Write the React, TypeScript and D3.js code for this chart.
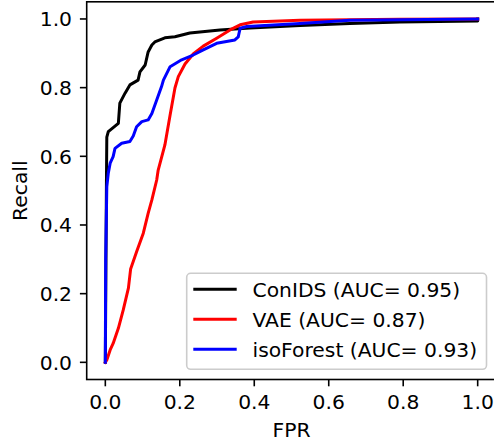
import React from "react";
import * as d3 from "d3";

const W = 494;
const H = 443;

const xTicks = [0, 0.2, 0.4, 0.6, 0.8, 1.0];
const yTicks = [0, 0.2, 0.4, 0.6, 0.8, 1.0];

const conidsFpr = [0, 0.003, 0.004, 0.008, 0.035, 0.039, 0.053, 0.066, 0.088, 0.093, 0.107, 0.115, 0.125, 0.133, 0.16, 0.187, 0.227, 0.308, 0.389, 0.523, 0.657, 0.791, 1.0, 1.0];
const conidsTpr = [0, 0.522, 0.656, 0.672, 0.696, 0.755, 0.784, 0.808, 0.822, 0.846, 0.866, 0.904, 0.924, 0.933, 0.945, 0.948, 0.959, 0.968, 0.974, 0.981, 0.987, 0.991, 0.994, 1.0];

const vaeFpr = [0, 0.004, 0.013, 0.021, 0.035, 0.048, 0.062, 0.068, 0.084, 0.102, 0.115, 0.125, 0.138, 0.142, 0.16, 0.174, 0.187, 0.196, 0.214, 0.236, 0.263, 0.299, 0.335, 0.362, 0.397, 0.523, 0.791, 1.0];
const vaeTpr = [0, 0.007, 0.036, 0.055, 0.099, 0.152, 0.216, 0.272, 0.322, 0.376, 0.434, 0.473, 0.531, 0.56, 0.633, 0.72, 0.799, 0.832, 0.869, 0.898, 0.921, 0.944, 0.968, 0.983, 0.991, 0.996, 0.999, 1.0];

const isoFpr = [0, 0.001, 0.004, 0.008, 0.013, 0.021, 0.026, 0.044, 0.066, 0.075, 0.084, 0.098, 0.115, 0.125, 0.138, 0.151, 0.156, 0.174, 0.205, 0.236, 0.263, 0.299, 0.348, 0.357, 0.362, 0.38, 0.416, 0.523, 0.657, 0.791, 1.0];
const isoTpr = [0, 0.3, 0.511, 0.551, 0.58, 0.599, 0.623, 0.638, 0.643, 0.659, 0.686, 0.701, 0.706, 0.725, 0.764, 0.803, 0.822, 0.861, 0.881, 0.895, 0.91, 0.929, 0.939, 0.948, 0.973, 0.978, 0.98, 0.987, 0.996, 0.998, 1.0];

const seriesNames = ["ConIDS (AUC= 0.95)", "VAE (AUC= 0.87)", "isoForest (AUC= 0.93)"];
const seriesColors = ["#000000", "#ff0000", "#0000ff"];

const FONT = "DejaVu Sans, sans-serif";
const FS = 20.3;

export default function App() {
  const left = 86.7, right = 496.3, top = 1.8, bottom = 379.5;
  const x = d3.scaleLinear().domain([-0.05, 1.05]).range([left, right]);
  const y = d3.scaleLinear().domain([-0.05, 1.05]).range([bottom, top]);
  const line = d3.line<[number, number]>().x((d) => x(d[0])).y((d) => y(d[1]));

  const series = [
    conidsFpr.map((f, i) => [f, conidsTpr[i]] as [number, number]),
    vaeFpr.map((f, i) => [f, vaeTpr[i]] as [number, number]),
    isoFpr.map((f, i) => [f, isoTpr[i]] as [number, number]),
  ];

  const lgX = 186.7, lgY = 273.3, lgW = 486.5 - 186.7, lgH = 369.3 - 273.3;

  return (
    <svg width={W} height={H} style={{ position: "absolute", left: 0, top: 0, background: "#fff" }} fontFamily={FONT}>
      <rect x={0} y={0} width={W} height={H} fill="#fff" />
      <defs>
        <clipPath id="plotclip">
          <rect x={left} y={top} width={right - left} height={bottom - top} />
        </clipPath>
      </defs>
      <g clipPath="url(#plotclip)">
        {series.map((s, i) => (
          <path key={i} d={line(s) || ""} fill="none" stroke={seriesColors[i]} strokeWidth={3} strokeLinejoin="round" strokeLinecap="square" />
        ))}
      </g>
      <rect x={left} y={top} width={right - left} height={bottom - top} fill="none" stroke="#000" strokeWidth={1.6} />
      {xTicks.map((t) => (
        <g key={"x" + t}>
          <line x1={x(t)} x2={x(t)} y1={bottom} y2={bottom + 6.8} stroke="#000" strokeWidth={1.6} />
          <text x={x(t)} y={408.5} textAnchor="middle" fontSize={FS} fill="#000">{t.toFixed(1)}</text>
        </g>
      ))}
      {yTicks.map((t) => (
        <g key={"y" + t}>
          <line x1={left - 6.8} x2={left} y1={y(t)} y2={y(t)} stroke="#000" strokeWidth={1.6} />
          <text x={72} y={y(t) + 7.5} textAnchor="end" fontSize={FS} fill="#000">{t.toFixed(1)}</text>
        </g>
      ))}
      <text x={(left + right) / 2} y={437} textAnchor="middle" fontSize={FS} fill="#000">FPR</text>
      <text transform={`translate(27,${(top + bottom) / 2}) rotate(-90)`} textAnchor="middle" fontSize={FS} fill="#000">Recall</text>
      <rect x={lgX} y={lgY} width={lgW} height={lgH} rx={4} ry={4} fill="#fff" fillOpacity={0.8} stroke="#cccccc" strokeWidth={1.6} />
      {seriesNames.map((n, i) => {
        const ly = 289.3 + i * 30;
        return (
          <g key={n}>
            <line x1={193.3} x2={236.7} y1={ly} y2={ly} stroke={seriesColors[i]} strokeWidth={3} />
            <text x={252.5} y={ly + 7.3} fontSize={FS} fill="#000">{n}</text>
          </g>
        );
      })}
    </svg>
  );
}
